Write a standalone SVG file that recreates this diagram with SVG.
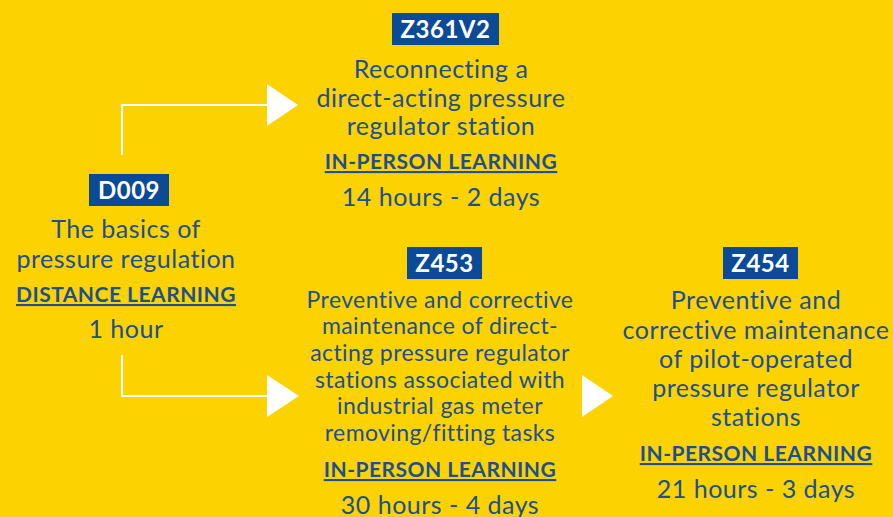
<svg xmlns="http://www.w3.org/2000/svg" width="893" height="517" viewBox="0 0 893 517">
<style>
.t{font-family:Lato,"Noto Sans",sans-serif;fill:#1d4f91;text-anchor:middle}
.b{font-size:25px;letter-spacing:0.5px}
.s{font-size:23px;letter-spacing:0.4px}
.m{font-family:Lato,"Noto Sans",sans-serif;fill:#1d4f91;text-anchor:middle;font-weight:bold;font-size:21px;letter-spacing:0.5px;text-decoration:underline}
.badge{fill:#0a4a97}
.bt{font-family:Lato,"Noto Sans",sans-serif;fill:#fff;font-weight:bold;font-size:24px;letter-spacing:0.5px;text-anchor:middle}
.ln{fill:none;stroke:#fff;stroke-width:2}
.ar{fill:#fff}
</style>
<rect width="893" height="517" fill="#fcd200"/>
<g id="connectors">
<path class="ln" d="M122,155 V105 H268"/>
<polygon class="ar" points="267,84 298,105 267,126"/>
<path class="ln" d="M122,355 V396 H268"/>
<polygon class="ar" points="267,375 299,396 267,417"/>
<polygon class="ar" points="582,375 613,396 582,417"/>
</g>
<g id="D009">
<rect class="badge" x="89" y="174" width="80" height="32"/>
<text class="bt" x="129" y="199">D009</text>
<text class="t b" x="126" y="238">The basics of</text>
<text class="t b" x="126" y="268">pressure regulation</text>
<text class="m" x="126" y="302">DISTANCE LEARNING</text>
<text class="t b" x="126" y="338">1 hour</text>
</g>
<g id="Z361V2">
<rect class="badge" x="392" y="13" width="107" height="32"/>
<text class="bt" x="445.5" y="38">Z361V2</text>
<text class="t b" x="441" y="78">Reconnecting a</text>
<text class="t b" x="441" y="107">direct-acting pressure</text>
<text class="t b" x="441" y="135">regulator station</text>
<text class="m" x="441" y="169">IN-PERSON LEARNING</text>
<text class="t b" x="441" y="206">14 hours - 2 days</text>
</g>
<g id="Z453">
<rect class="badge" x="407" y="247" width="75" height="32"/>
<text class="bt" x="444.5" y="272">Z453</text>
<text class="t s" x="440" y="308">Preventive and corrective</text>
<text class="t s" x="440" y="334">maintenance of direct-</text>
<text class="t s" x="440" y="361">acting pressure regulator</text>
<text class="t s" x="440" y="388">stations associated with</text>
<text class="t s" x="440" y="414">industrial gas meter</text>
<text class="t s" x="440" y="441">removing/fitting tasks</text>
<text class="m" x="440" y="477">IN-PERSON LEARNING</text>
<text class="t b" x="440" y="514">30 hours - 4 days</text>
</g>
<g id="Z454">
<rect class="badge" x="723" y="247" width="75" height="32"/>
<text class="bt" x="760.5" y="272">Z454</text>
<text class="t b" x="756" y="309">Preventive and</text>
<text class="t b" x="756" y="339">corrective maintenance</text>
<text class="t b" x="756" y="368">of pilot-operated</text>
<text class="t b" x="756" y="397">pressure regulator</text>
<text class="t b" x="756" y="426">stations</text>
<text class="m" x="756" y="461">IN-PERSON LEARNING</text>
<text class="t b" x="756" y="498">21 hours - 3 days</text>
</g>
</svg>
